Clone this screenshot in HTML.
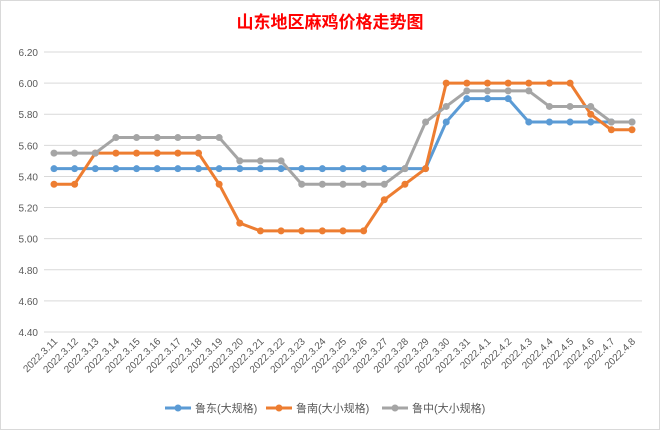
<!DOCTYPE html>
<html><head><meta charset="utf-8">
<style>
html,body{margin:0;padding:0;background:#fff;}
svg{display:block;font-family:"Liberation Sans","Noto Sans CJK SC",sans-serif;}
</style></head>
<body>
<svg id="chart" width="660" height="430" viewBox="0 0 660 430">
<rect x="0.5" y="0.5" width="659" height="429" fill="#fff" stroke="#d9d9d9"/>
<text x="330" y="28" text-anchor="middle" font-size="17" font-weight="bold" fill="#ff0000" font-family="'Liberation Sans','Noto Sans CJK SC',sans-serif">山东地区麻鸡价格走势图</text>
<g id="grid"></g><g id="yt"></g><g id="xt"></g><g id="series"></g><g id="legend"></g>
</svg>
<script>
const categories=["2022.3.11","2022.3.12","2022.3.13","2022.3.14","2022.3.15","2022.3.16","2022.3.17","2022.3.18","2022.3.19","2022.3.20","2022.3.21","2022.3.22","2022.3.23","2022.3.24","2022.3.25","2022.3.26","2022.3.27","2022.3.28","2022.3.29","2022.3.30","2022.3.31","2022.4.1","2022.4.2","2022.4.3","2022.4.4","2022.4.5","2022.4.6","2022.4.7","2022.4.8"];
const ludong=[5.45,5.45,5.45,5.45,5.45,5.45,5.45,5.45,5.45,5.45,5.45,5.45,5.45,5.45,5.45,5.45,5.45,5.45,5.45,5.75,5.90,5.90,5.90,5.75,5.75,5.75,5.75,5.75,5.75];
const lunan=[5.35,5.35,5.55,5.55,5.55,5.55,5.55,5.55,5.35,5.10,5.05,5.05,5.05,5.05,5.05,5.05,5.25,5.35,5.45,6.00,6.00,6.00,6.00,6.00,6.00,6.00,5.80,5.70,5.70];
const luzhong=[5.55,5.55,5.55,5.65,5.65,5.65,5.65,5.65,5.65,5.50,5.50,5.50,5.35,5.35,5.35,5.35,5.35,5.45,5.75,5.85,5.95,5.95,5.95,5.95,5.85,5.85,5.85,5.75,5.75];
const yTicks=[4.40,4.60,4.80,5.00,5.20,5.40,5.60,5.80,6.00,6.20];
const seriesNames=["鲁东(大规格)","鲁南(大小规格)","鲁中(大小规格)"];
const colors=["#5b9bd5","#ed7d31","#a5a5a5"];
const NS="http://www.w3.org/2000/svg";
const x0=54,x1=632,yTop=52,yBot=332,yMin=4.4,yMax=6.2;
function xs(i){return x0+i*(x1-x0)/(categories.length-1);}
function ys(v){return yBot-(v-yMin)/(yMax-yMin)*(yBot-yTop);}
function mk(tag,attrs,parent){const e=document.createElementNS(NS,tag);for(const k in attrs)e.setAttribute(k,attrs[k]);parent.appendChild(e);return e;}
const grid=document.getElementById('grid'),yt=document.getElementById('yt'),xt=document.getElementById('xt'),ser=document.getElementById('series'),leg=document.getElementById('legend');
yTicks.forEach(v=>{
 const l=mk('line',{x1:44,x2:642,y1:ys(v),y2:ys(v),stroke:'#d9d9d9','stroke-width':1},grid);
 
 
 const t=mk('text',{x:38,y:ys(v)+4,'text-anchor':'end','font-size':10,fill:'#595959'},yt);
 
 
 t.textContent=v.toFixed(2);
});
categories.forEach((c,i)=>{
 const t=mk('text',{x:xs(i)+4,y:342,'text-anchor':'end','font-size':10,fill:'#595959',transform:`rotate(-45 ${xs(i)+4} 342)`},xt);
 
 
 t.textContent=c;
});
[ludong,lunan,luzhong].forEach((d,s)=>{
 const g=mk('g',{},ser);
 
 
 const p=mk('polyline',{points:d.map((v,i)=>xs(i)+','+ys(v)).join(' '),fill:'none',stroke:colors[s],'stroke-width':3,'stroke-linejoin':'round'},g);
 
 
 d.forEach((v,i)=>{
  const c=mk('circle',{cx:xs(i),cy:ys(v),r:3.5,fill:colors[s]},g);
  
  
 });
});
const lx=[165,266,382];
seriesNames.forEach((n,s)=>{
 const g=mk('g',{},leg);
 
 
 mk('line',{x1:lx[s],x2:lx[s]+26,y1:408,y2:408,stroke:colors[s],'stroke-width':3},g);
 mk('circle',{cx:lx[s]+13,cy:408,r:3.5,fill:colors[s]},g);
 const t=mk('text',{x:lx[s]+30,y:412,'font-size':11,fill:'#595959'},g);
 t.textContent=n;
});
</script>
</body></html>
